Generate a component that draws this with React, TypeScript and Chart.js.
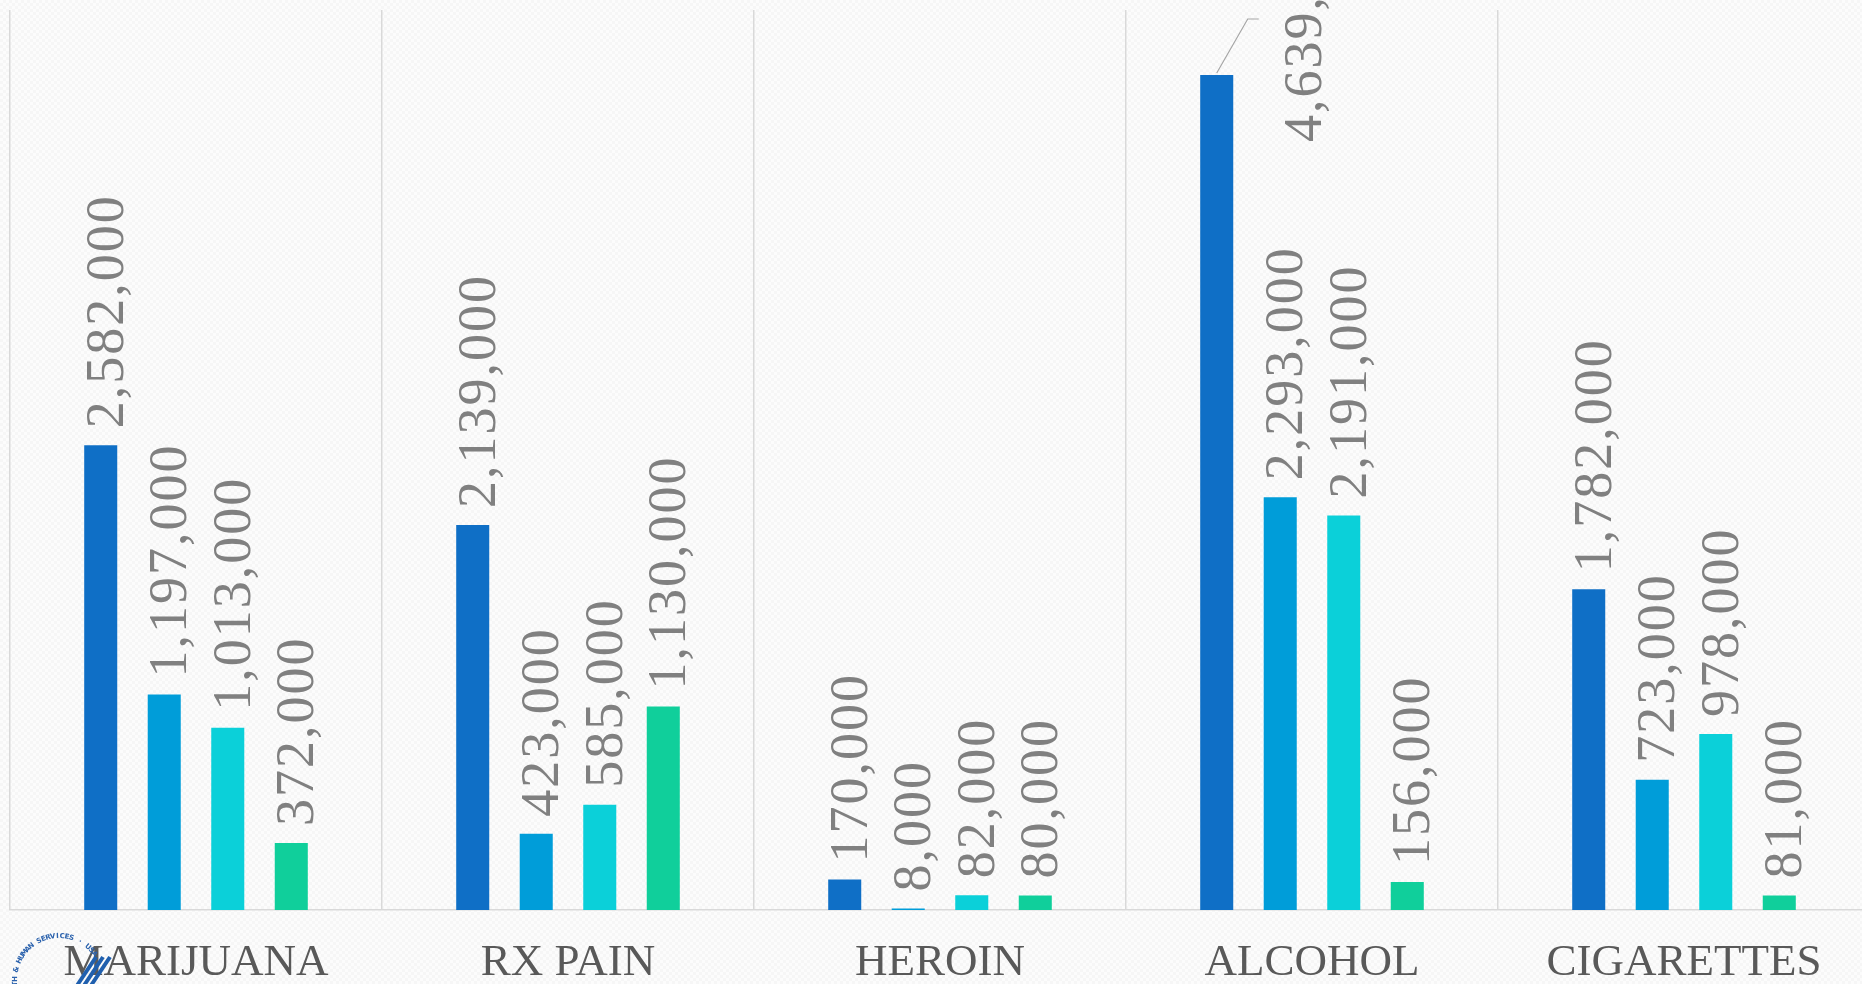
import React, { useEffect, useRef } from "react";
import { Chart, registerables } from "chart.js";

Chart.register(...registerables);

// ---- data ----
const categories = ["MARIJUANA", "RX PAIN", "HEROIN", "ALCOHOL", "CIGARETTES"];
const seriesNames = ["Series 1", "Series 2", "Series 3", "Series 4"];
const series1 = [2582000, 2139000, 170000, 4639000, 1782000];
const series2 = [1197000, 423000, 8000, 2293000, 723000];
const series3 = [1013000, 585000, 82000, 2191000, 978000];
const series4 = [372000, 1130000, 80000, 156000, 81000];
const seriesColors = ["#0F6FC6", "#009DD9", "#0BD0D9", "#10CF9B"];
const yMin = 0;
const yMax = 5000000;

// label that was dragged away from its bar (with a leader line)
const movedLabel = { dataset: 0, index: 3, dx: 90, dy: 67 };

const fmt = (v: number) => String(v).replace(/\B(?=(\d{3})+(?!\d))/g, ",");

const valueLabelPlugin = {
  id: "valueLabels",
  afterDatasetsDraw(chart: any) {
    const ctx = chart.ctx as CanvasRenderingContext2D;
    ctx.save();
    ctx.font = '54px "Liberation Serif"';
    ctx.fillStyle = "#808080";
    (ctx as any).letterSpacing = "2px";
    ctx.textAlign = "left";
    ctx.textBaseline = "middle";
    chart.data.datasets.forEach((ds: any, di: number) => {
      const meta = chart.getDatasetMeta(di);
      meta.data.forEach((bar: any, i: number) => {
        const text = fmt(ds.data[i]);
        let x = bar.x + 8;
        let y = bar.y - 17;
        if (di === movedLabel.dataset && i === movedLabel.index) {
          x = bar.x + movedLabel.dx;
          y = bar.y + movedLabel.dy;
          ctx.save();
          ctx.strokeStyle = "#a6a6a6";
          ctx.lineWidth = 1.2;
          ctx.beginPath();
          ctx.moveTo(bar.x, bar.y - 2);
          ctx.lineTo(bar.x + 31, bar.y - 56);
          ctx.lineTo(bar.x + 42, bar.y - 56);
          ctx.stroke();
          ctx.restore();
        }
        ctx.save();
        ctx.translate(x, y);
        ctx.rotate(-Math.PI / 2);
        ctx.fillText(text, 0, 0);
        ctx.restore();
      });
    });
    ctx.restore();
  },
};

const sealPlugin = {
  id: "seal",
  afterDraw(chart: any) {
    const ctx = chart.ctx as CanvasRenderingContext2D;
    const cx = 59;
    const cy = 980;
    const r = 42;
    const text = "DEPARTMENT OF HEALTH & HUMAN SERVICES · USA";
    const step = 0.108;
    const uIndex = text.lastIndexOf("U");
    const uAngle = 0.72;
    ctx.save();
    ctx.fillStyle = "#2b62ad";
    ctx.font = 'bold 7px "DejaVu Sans"';
    ctx.textAlign = "center";
    ctx.textBaseline = "alphabetic";
    for (let k = 0; k < text.length; k++) {
      const a = uAngle - (uIndex - k) * step;
      ctx.save();
      ctx.translate(cx + r * Math.sin(a), cy - r * Math.cos(a));
      ctx.rotate(a);
      ctx.fillText(text[k], 0, 0);
      ctx.restore();
    }
    ctx.strokeStyle = "#1f5fae";
    ctx.lineWidth = 4;
    ctx.lineCap = "butt";
    for (let s = 0; s < 3; s++) {
      ctx.beginPath();
      ctx.moveTo(74 + s * 7, 990);
      ctx.quadraticCurveTo(86 + s * 7, 972, 96 + s * 7, 957);
      ctx.stroke();
    }
    ctx.restore();
  },
};

export default function App() {
  const ref = useRef<HTMLCanvasElement | null>(null);

  useEffect(() => {
    if (!ref.current) return;
    const data = [series1, series2, series3, series4];
    const chart = new Chart(ref.current, {
      type: "bar",
      data: {
        labels: categories,
        datasets: data.map((d, i) => ({
          label: seriesNames[i],
          data: d,
          backgroundColor: seriesColors[i],
          borderWidth: 0,
          categoryPercentage: 0.683,
          barPercentage: 0.52,
        })),
      },
      options: {
        responsive: false,
        animation: false,
        devicePixelRatio: 1,
        layout: { padding: { left: 10, top: 10, right: 10, bottom: 10 } },
        plugins: {
          legend: { display: false },
          tooltip: { enabled: false },
        },
        scales: {
          x: {
            grid: {
              display: true,
              offset: true,
              color: "#d9d9d9",
              lineWidth: 1.5,
              drawTicks: false,
              tickLength: 0,
            },
            border: { display: true, color: "#d9d9d9", width: 1.5 },
            ticks: {
              color: "#595959",
              font: { family: '"Liberation Serif"', size: 45 },
              padding: 26,
              maxRotation: 0,
              autoSkip: false,
            },
          },
          y: {
            display: false,
            min: yMin,
            max: yMax,
          },
        },
      },
      plugins: [valueLabelPlugin, sealPlugin],
    });
    return () => chart.destroy();
  }, []);

  return (
    <div
      style={{
        position: "fixed",
        left: 0,
        top: 0,
        width: "100vw",
        height: "100vh",
        overflow: "hidden",
        background:
          "repeating-conic-gradient(#f6f6f6 0 25%, #fcfcfc 0 50%) 0 0 / 6px 6px",
      }}
    >
      <canvas
        ref={ref}
        width={1880}
        height={1026}
        style={{ display: "block", width: "1880px", height: "1026px" }}
      />
    </div>
  );
}
